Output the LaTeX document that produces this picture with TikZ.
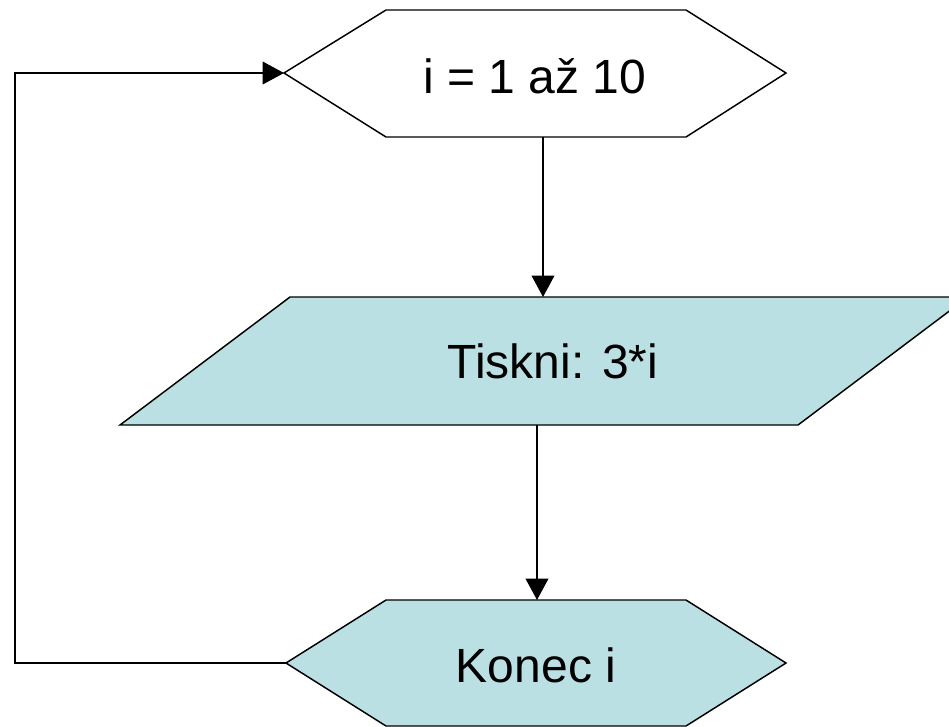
\documentclass[tikz,border=0pt]{standalone}
\usepackage{fontspec}
\setmainfont{Liberation Sans}
\usetikzlibrary{arrows.meta}
\definecolor{flowfill}{RGB}{187,224,227}
\begin{document}
\begin{tikzpicture}[x=0.75pt,y=-0.75pt,
  outline/.style={draw=black,line width=1.1pt,line join=miter},
  caption/.style={font=\fontsize{36}{43}\selectfont,inner sep=0pt,anchor=base},
  flow/.style={draw=black,line width=1.1pt,-{Triangle[length=16pt,width=17pt]}},
]
\useasboundingbox (0,0) rectangle (949,726);
% loop header hexagon
\draw[outline,fill=white] (284,73) -- (386,10) -- (686,10) -- (786,73)
  -- (686,137) -- (386,137) -- cycle;
\coordinate (loopin) at (284,73);
\coordinate (loopout) at (543,137);
\node[caption] (loop) at (535,93) {i = 1 až 10};
% output parallelogram
\draw[outline,fill=flowfill] (120,425) -- (290,297) -- (968,297) -- (798,425) -- cycle;
\coordinate (printin) at (543,297);
\coordinate (printout) at (537,425);
\node[caption] (print) at (553,378) {Tiskni: 3*i};
% loop end hexagon
\draw[outline,fill=flowfill] (286,663) -- (386,600) -- (686,600) -- (786,663)
  -- (686,726) -- (386,726) -- cycle;
\coordinate (endin) at (537,600);
\coordinate (endout) at (286,663);
\coordinate (backlow) at (15,663);
\coordinate (backhigh) at (15,73);
\node[caption] (endloop) at (536,682) {Konec i};
% connectors
\draw[flow] (loopout) -- (printin);
\draw[flow] (printout) -- (endin);
\draw[flow] (endout) -- (backlow) -- (backhigh) -- (loopin);
\end{tikzpicture}
\end{document}
